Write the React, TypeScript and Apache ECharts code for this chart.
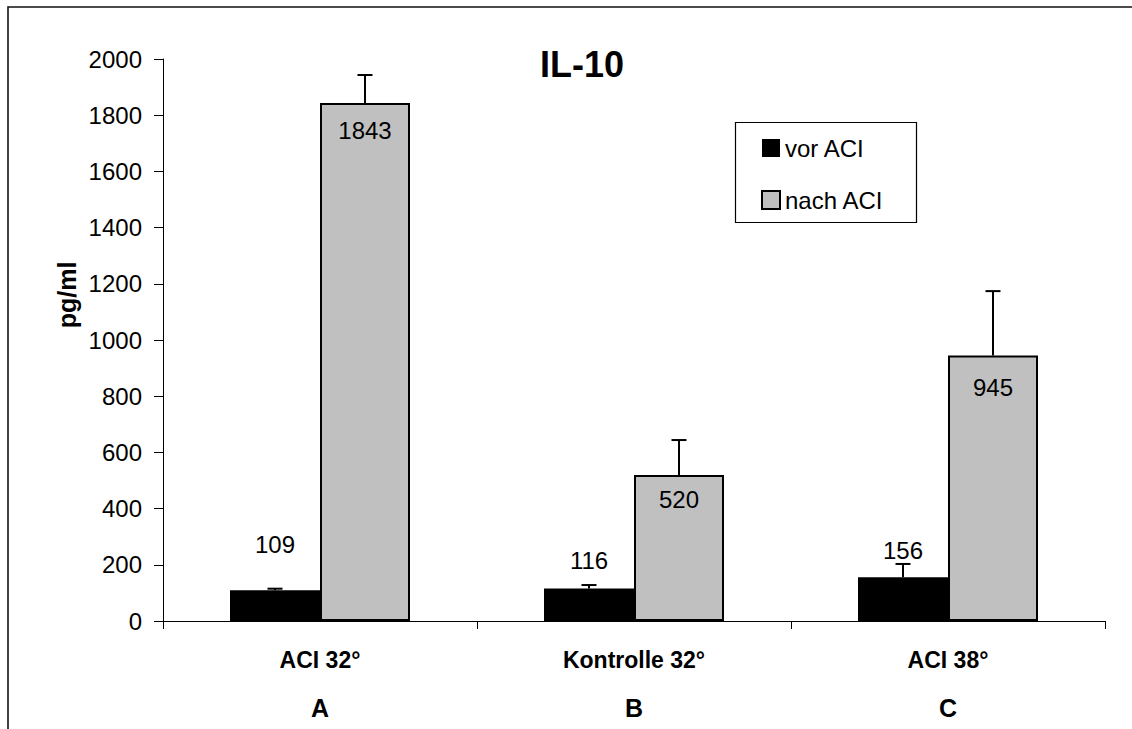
import React, { useEffect, useRef } from "react";
import * as echarts from "echarts";

const categories = ["ACI 32°", "Kontrolle 32°", "ACI 38°"];
const groupLetters = ["A", "B", "C"];
const seriesNames = ["vor ACI", "nach ACI"];
const vorValues = [109, 116, 156];
const nachValues = [1843, 520, 945];
const vorErrors = [6, 12, 47];
const nachErrors = [100, 124, 229];
const vorLabelDistance = [34, 16, 15];
const nachLabelDistance = [15, 13, 20];
const yTicks = { min: 0, max: 2000, interval: 200 };

const FONT = "'Liberation Sans', Arial, sans-serif";

export default function App() {
  const ref = useRef<HTMLDivElement>(null);
  useEffect(() => {
    if (!ref.current) return;
    const chart = echarts.init(ref.current, null, { renderer: "svg" });
    const BAR_W = 90;
    const errRender = (offset: number) => (params: any, api: any) => {
      const base = api.coord([api.value(0), api.value(1)]);
      const top = api.coord([api.value(0), api.value(1) + api.value(2)]);
      const cx = base[0] + offset;
      const style = { stroke: "#000", lineWidth: 2 };
      return {
        type: "group",
        children: [
          { type: "line", shape: { x1: cx, y1: base[1], x2: cx, y2: top[1] }, style },
          { type: "line", shape: { x1: cx - 7.5, y1: top[1], x2: cx + 7.5, y2: top[1] }, style },
        ],
      };
    };
    chart.setOption({
      animation: false,
      textStyle: { fontFamily: FONT },
      title: {
        text: "IL-10",
        left: 540,
        top: 46,
        padding: 0,
        textStyle: { fontFamily: FONT, fontSize: 36, fontWeight: "bold", color: "#000" },
      },
      legend: {
        orient: "vertical",
        left: 761,
        top: 136,
        itemWidth: 18,
        itemHeight: 18,
        itemGap: 28,
        padding: 0,
        icon: "rect",
        data: [
          { name: seriesNames[0], itemStyle: { color: "#000", borderWidth: 0 } },
          { name: seriesNames[1], itemStyle: { color: "#c0c0c0", borderColor: "#000", borderWidth: 2 } },
        ],
        textStyle: { fontFamily: FONT, fontSize: 24, color: "#000", lineHeight: 24 },
      },
      graphic: [
        {
          type: "rect",
          shape: { x: 8, y: 7, width: 1300, height: 900 },
          style: { fill: "none", stroke: "#111", lineWidth: 1.6 },
          silent: true,
        },
        {
          type: "rect",
          shape: { x: 735.5, y: 122.5, width: 181, height: 100 },
          style: { fill: "none", stroke: "#000", lineWidth: 1.2 },
          silent: true,
        },
        {
          type: "text",
          x: 67,
          y: 295,
          rotation: Math.PI / 2,
          style: {
            text: "pg/ml",
            fontFamily: FONT,
            fontSize: 25,
            fontWeight: "bold",
            fill: "#000",
            textAlign: "center",
            textVerticalAlign: "middle",
          },
        },
      ],
      grid: { left: 163, top: 59, right: 27, bottom: 108, containLabel: false },
      xAxis: {
        type: "category",
        data: categories,
        axisLine: { lineStyle: { color: "#000", width: 1 } },
        axisTick: { show: true, length: 8, lineStyle: { color: "#000" } },
        axisLabel: {
          margin: 15,
          formatter: (v: string) => {
            const i = categories.indexOf(v);
            return `{a|${v}}\n{b|${groupLetters[i]}}`;
          },
          rich: {
            a: { fontFamily: FONT, fontSize: 23, fontWeight: "bold", color: "#000", lineHeight: 48 },
            b: { fontFamily: FONT, fontSize: 25, fontWeight: "bold", color: "#000", lineHeight: 48 },
          },
        },
      },
      yAxis: {
        type: "value",
        min: yTicks.min,
        max: yTicks.max,
        interval: yTicks.interval,
        splitLine: { show: false },
        axisLine: { show: true, lineStyle: { color: "#000", width: 1 } },
        axisTick: { show: true, length: 9, lineStyle: { color: "#000" } },
        axisLabel: {
          margin: 21,
          fontFamily: FONT,
          fontSize: 24,
          color: "#000",
          formatter: (v: number) => String(v),
        },
      },
      series: [
        {
          name: seriesNames[0],
          type: "bar",
          barWidth: BAR_W,
          barGap: "0%",
          itemStyle: { color: "#000" },
          data: vorValues.map((v, i) => ({
            value: v,
            label: {
              show: true,
              position: "top",
              distance: vorLabelDistance[i],
              fontFamily: FONT,
              fontSize: 24,
              color: "#000",
            },
          })),
        },
        {
          name: seriesNames[1],
          type: "bar",
          barWidth: BAR_W,
          barGap: "0%",
          itemStyle: { color: "#c0c0c0", borderColor: "#000", borderWidth: 2 },
          data: nachValues.map((v, i) => ({
            value: v,
            label: {
              show: true,
              position: "insideTop",
              distance: nachLabelDistance[i],
              fontFamily: FONT,
              fontSize: 24,
              color: "#000",
            },
          })),
        },
        {
          type: "custom",
          name: "err-vor",
          z: 5,
          renderItem: errRender(-BAR_W / 2),
          encode: { x: 0, y: 1 },
          data: vorValues.map((v, i) => [i, v, vorErrors[i]]),
        },
        {
          type: "custom",
          name: "err-nach",
          z: 5,
          renderItem: errRender(BAR_W / 2),
          encode: { x: 0, y: 1 },
          data: nachValues.map((v, i) => [i, v, nachErrors[i]]),
        },
      ],
    });
    return () => chart.dispose();
  }, []);
  return (
    <div
      ref={ref}
      style={{ position: "fixed", left: 0, top: 0, width: 1132, height: 729, background: "#fff" }}
    />
  );
}
